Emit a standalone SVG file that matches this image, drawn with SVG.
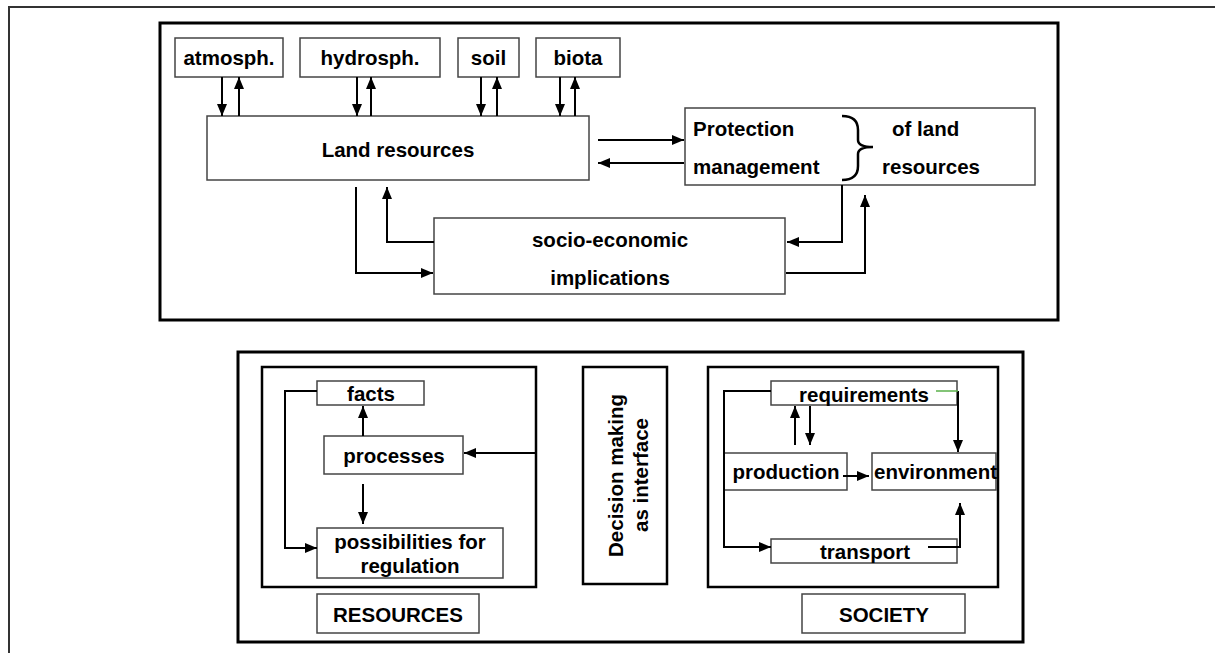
<svg xmlns="http://www.w3.org/2000/svg" width="1215" height="653" viewBox="0 0 1215 653">
<style>
.t{font-family:"Liberation Sans",Arial,sans-serif;font-weight:bold;font-size:20.5px;fill:#000}
.m{text-anchor:middle}
.sb{fill:#fff;stroke:#444;stroke-width:1.5}
.mb{fill:none;stroke:#000;stroke-width:2.5}
.cb{fill:none;stroke:#000;stroke-width:3}
.c{fill:none;stroke:#000;stroke-width:2}
.ca{fill:none;stroke:#000;stroke-width:2;marker-end:url(#ah)}
</style>
<defs>
<marker id="ah" markerUnits="userSpaceOnUse" markerWidth="13" markerHeight="11" refX="12" refY="5" orient="auto">
<path d="M0,0 L12,5 L0,10 z" fill="#000"/>
</marker>
</defs>
<rect width="1215" height="653" fill="#fff"/>
<path d="M9,653 V7 H1215" fill="none" stroke="#333" stroke-width="2"/>
<g id="top-container"><rect class="cb" x="160" y="23" width="898" height="297"/></g>
<g id="bottom-container"><rect class="cb" x="238" y="352" width="785" height="290"/></g>

<g id="atmosph"><rect class="sb" x="175" y="38" width="108" height="39"/><text class="t m" x="229" y="65">atmosph.</text></g>
<g id="hydrosph"><rect class="sb" x="300" y="38" width="140" height="39"/><text class="t m" x="370" y="65">hydrosph.</text></g>
<g id="soil"><rect class="sb" x="458" y="38" width="61" height="39"/><text class="t m" x="488.5" y="65">soil</text></g>
<g id="biota"><rect class="sb" x="536" y="38" width="84" height="39"/><text class="t m" x="578" y="65">biota</text></g>
<g id="land"><rect class="sb" x="207" y="116" width="382" height="64"/><text class="t m" x="398" y="157">Land resources</text></g>
<g id="protection"><rect class="sb" x="685" y="108" width="350" height="77"/>
<text class="t" x="693" y="136">Protection</text><text class="t" x="693" y="174">management</text>
<path d="M842,116 Q858,116 858,130 L858,140 Q858,147 873,147 Q858,147 858,154 L858,166 Q858,180 842,180" fill="none" stroke="#000" stroke-width="2.5"/>
<text class="t" x="892" y="136">of land</text><text class="t" x="882" y="174">resources</text></g>
<g id="socio"><rect class="sb" x="434" y="218" width="351" height="76"/><text class="t m" x="610" y="247">socio-economic</text><text class="t m" x="610" y="285">implications</text></g>

<g id="resources-box"><rect class="mb" x="262" y="367" width="274" height="220"/></g>
<g id="facts"><rect class="sb" x="317" y="381" width="107" height="24"/><text class="t m" x="371" y="401">facts</text></g>
<g id="processes"><rect class="sb" x="324" y="436" width="139" height="38"/><text class="t m" x="394" y="463">processes</text></g>
<g id="possibilities"><rect class="sb" x="317" y="528" width="186" height="50"/><text class="t m" x="410" y="549">possibilities for</text><text class="t m" x="410" y="573">regulation</text></g>
<g id="resources-label"><rect class="sb" x="317" y="594" width="162" height="39"/><text class="t m" x="398" y="622">RESOURCES</text></g>
<g id="decision"><rect class="mb" x="583" y="367" width="84" height="217"/>
<text class="t m" transform="translate(623,475.5) rotate(-90)">Decision making</text>
<text class="t m" transform="translate(648,475) rotate(-90)">as interface</text></g>
<g id="society-box"><rect class="mb" x="708" y="367" width="290" height="220"/></g>
<g id="requirements"><rect class="sb" x="771" y="381" width="186" height="24"/><text class="t m" x="864" y="402">requirements</text></g>
<g id="production"><rect class="sb" x="724" y="453" width="123" height="37"/><text class="t m" x="786" y="479">production</text></g>
<g id="environment"><rect class="sb" x="872" y="453" width="124" height="37"/><text class="t m" x="935.5" y="479">environment</text></g>
<g id="transport"><rect class="sb" x="771" y="539" width="186" height="24"/><text class="t m" x="865" y="559">transport</text></g>
<g id="society-label"><rect class="sb" x="802" y="594" width="163" height="39"/><text class="t m" x="884" y="622">SOCIETY</text></g>

<g id="connectors">
<path class="ca" d="M222,77 V116"/>
<path class="ca" d="M239,116 V77"/>
<path class="ca" d="M357,77 V116"/>
<path class="ca" d="M371,116 V77"/>
<path class="ca" d="M481,77 V116"/>
<path class="ca" d="M497,116 V77"/>
<path class="ca" d="M560,77 V116"/>
<path class="ca" d="M575,116 V77"/>
<path class="ca" d="M598,140 H684"/>
<path class="ca" d="M684,163 H598"/>
<path class="ca" d="M356,187 V273 H433"/>
<path class="ca" d="M434,242 H387 V187"/>
<path class="ca" d="M842,185 V242 H787"/>
<path class="ca" d="M786,273 H865 V195"/>
<path class="ca" d="M317,391 H285 V548 H317"/>
<path class="ca" d="M363,436 V406"/>
<path class="ca" d="M363,484 V524"/>
<path class="ca" d="M536,453 H464"/>
<path class="ca" d="M771,391 H724 V547 H771"/>
<path class="ca" d="M795,445 V406"/>
<path class="ca" d="M810,406 V445"/>
<path class="ca" d="M843,476 H869"/>
<path class="ca" d="M958,391 V452"/>
<path d="M936,391 H958" fill="none" stroke="#5ab04a" stroke-width="1.5"/>
<path class="ca" d="M928,547 H960 V503"/>
</g>
</svg>
